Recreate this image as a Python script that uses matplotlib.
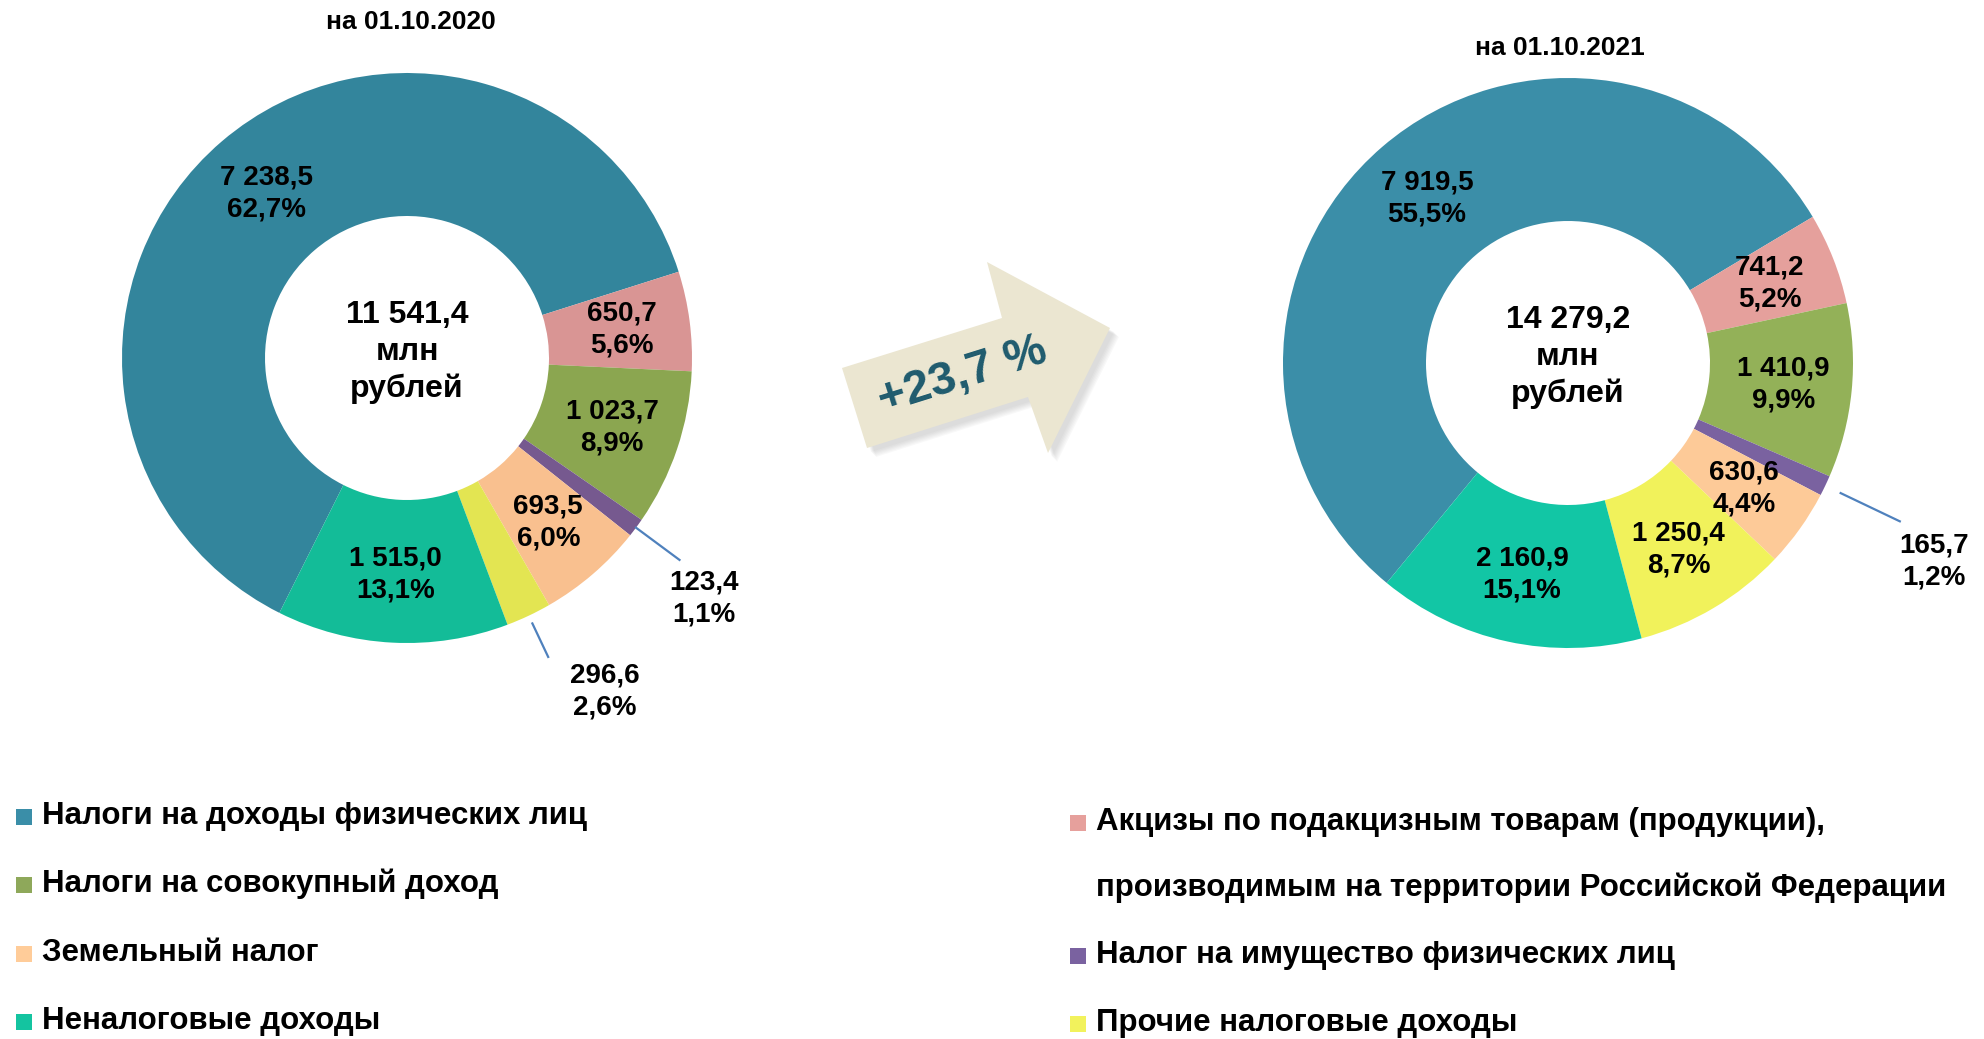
import numpy as np
import matplotlib
matplotlib.use("Agg")
import matplotlib.pyplot as plt
from matplotlib.patches import Polygon, Rectangle

plt.rcParams['font.family'] = ['Liberation Sans', 'DejaVu Sans']
plt.rcParams['font.weight'] = 'bold'

# данные
categories = ['Налоги на доходы физических лиц',
              'Акцизы по подакцизным товарам (продукции),\nпроизводимым на территории Российской Федерации',
              'Налоги на совокупный доход',
              'Налог на имущество физических лиц',
              'Земельный налог',
              'Прочие налоговые доходы',
              'Неналоговые доходы']
values_2020 = [7238.5, 650.7, 1023.7, 123.4, 693.5, 296.6, 1515.0]
pct_2020 = [62.7, 5.6, 8.9, 1.1, 6.0, 2.6, 13.1]
values_2021 = [7919.5, 741.2, 1410.9, 165.7, 630.6, 1250.4, 2160.9]
pct_2021 = [55.5, 5.2, 9.9, 1.2, 4.4, 8.7, 15.1]
dates = ['на 01.10.2020', 'на 01.10.2021']
growth = '+23,7 %'

colors_2020 = ['#33859c', '#d99594', '#8ba650', '#76598f', '#f9c08f', '#e3e552', '#13bc98']
colors_2021 = ['#3b8ea8', '#e5a09c', '#93b158', '#7a62a0', '#fdca98', '#f1f25b', '#12c6a5']
legend_colors = ['#3a8ea8', '#e6a09c', '#8ea85a', '#7a62a0', '#ffcc99', '#f2f25c', '#14c4a0']

W, H = 1984, 1039
fig = plt.figure(figsize=(W / 100, H / 100), dpi=100)
ax = fig.add_axes([0, 0, 1, 1])

R = 285
r_in = 142
LBL = 20


def fmt(v):
    return f"{v:,.1f}".replace(",", " ").replace(".", ",")


def donut(cx, cy, vals, pcts, colors, start, outside):
    wedges, _ = ax.pie(vals, colors=colors, startangle=start, counterclock=False,
                       radius=R, center=(cx, H - cy),
                       wedgeprops=dict(width=R - r_in, linewidth=0))
    for i, w in enumerate(wedges):
        mid = (w.theta1 + w.theta2) / 2
        txt = fmt(vals[i]) + "\n" + f"{pcts[i]:.1f}".replace(".", ",") + "%"
        if i in outside:
            r1, r2, rl, da = outside[i]
            a = np.deg2rad(mid)
            ax.plot([cx + r1 * R * np.cos(a), cx + r2 * R * np.cos(a)],
                    [H - cy + r1 * R * np.sin(a), H - cy + r2 * R * np.sin(a)],
                    color='#4f81bd', lw=1.6)
            b = np.deg2rad(mid + da)
            ax.text(cx + rl * R * np.cos(b), H - cy + rl * R * np.sin(b), txt,
                    ha='center', va='center', fontsize=LBL, linespacing=1.3)
        else:
            a = np.deg2rad(mid)
            ax.text(cx + 0.76 * R * np.cos(a), H - cy + 0.76 * R * np.sin(a), txt,
                    ha='center', va='center', fontsize=LBL, linespacing=1.3)
    ax.text(cx, H - cy + 6, fmt(sum(vals)) + "\nмлн\nрублей", ha='center', va='center',
            fontsize=23, linespacing=1.3)


donut(407, 358, values_2020, pct_2020, colors_2020, 243.4,
      {3: (1.0, 1.19, 1.34, -2.4), 5: (1.03, 1.16, 1.36, 5.4)})
donut(1568, 363, values_2021, pct_2021, colors_2021, 230.5,
      {3: (1.06, 1.29, 1.46, -3.0)})

ax.text(411, H - 22, dates[0], ha='center', va='center', fontsize=19)
ax.text(1560, H - 48, dates[1], ha='center', va='center', fontsize=19)

# стрелка
arrow = [(842, 368), (1002, 318), (987, 262), (1110, 328), (1048, 453), (1028, 397), (867, 448)]
for k in range(6, 0, -1):
    sh = [(x + 3 + k, H - y - 3 - k) for x, y in arrow]
    ax.add_patch(Polygon(sh, closed=True, facecolor='#888888', alpha=0.05, lw=0))
ax.add_patch(Polygon([(x, H - y) for x, y in arrow], closed=True, facecolor='#ebe6d1', lw=0))
ax.text(963, H - 376, growth, ha='center', va='center', rotation=17.4,
        fontsize=34, color='#1f5b6e')

# легенда
left_items = [0, 2, 4, 6]
left_y = [816, 884, 953, 1021]
for i, y in zip(left_items, left_y):
    ax.add_patch(Rectangle((16, H - y - 9), 16, 16, facecolor=legend_colors[i], lw=0))
    ax.text(42, H - y, categories[i], ha='left', va='center', fontsize=22.5)

right_items = [1, 3, 5]
right_y = [822, 955, 1023]
for i, y in zip(right_items, right_y):
    ax.add_patch(Rectangle((1070, H - y - 9), 16, 16, facecolor=legend_colors[i], lw=0))
    lines = categories[i].split("\n")
    for j, line in enumerate(lines):
        ax.text(1096, H - y - 66 * j, line, ha='left', va='center', fontsize=22.5)

ax.set_xlim(0, W)
ax.set_ylim(0, H)
ax.set_aspect('auto')
ax.axis('off')

fig.savefig('out.png', dpi=100, facecolor='white')
